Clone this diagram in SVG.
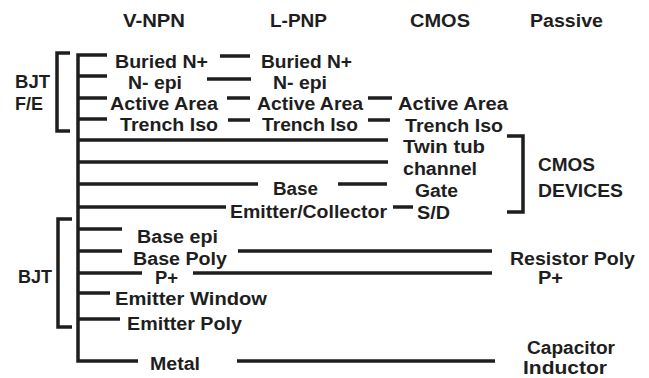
<svg xmlns="http://www.w3.org/2000/svg" width="649" height="378" viewBox="0 0 649 378">
<style>
text{font-family:"Liberation Sans",Arial,sans-serif;font-weight:bold;font-size:17.5px;fill:#1e1e1e}
.big{font-size:18.5px}
.ln{stroke:#1e1e1e;stroke-width:3.5;fill:none;stroke-linecap:butt;stroke-linejoin:miter}
</style>
<rect width="649" height="378" fill="#ffffff"/>
<g id="connectors" class="ln">
<path d="M70,53 H57 V131 H70"/>
<path d="M107,55 H78 V361 H138"/>
<path d="M78,76 H107 M78,98 H107 M78,119 H107"/>
<path d="M78,140 H388 M78,162 H388 M78,184 H258 M78,207 H226"/>
<path d="M78,229 H122 M78,251 H122 M78,273 H142 M78,293 H110 M78,319 H120"/>
<path d="M72,219 H58 V327 H72"/>
<path d="M507,136 H523 V212 H507"/>
<path d="M220,56 H250 M207,79 H251 M227,98 H250 M368,98 H392 M228,120 H250 M368,120 H390"/>
<path d="M338,184 H387 M393,207 H413"/>
<path d="M238,251 H492 M193,273 H492 M237,361 H495"/>
</g>
<g id="headers">
<text x="123" y="27" textLength="62" lengthAdjust="spacingAndGlyphs">V-NPN</text>
<text x="270" y="27" textLength="57" lengthAdjust="spacingAndGlyphs">L-PNP</text>
<text x="410" y="27" textLength="60" lengthAdjust="spacingAndGlyphs">CMOS</text>
<text x="530" y="27" textLength="73" lengthAdjust="spacingAndGlyphs">Passive</text>
</g>
<g id="bjt-fe">
<text x="15" y="88" textLength="35" lengthAdjust="spacingAndGlyphs">BJT</text>
<text x="15" y="110" textLength="28" lengthAdjust="spacingAndGlyphs">F/E</text>
</g>
<g id="vnpn-buried"><text x="115" y="68" textLength="93" lengthAdjust="spacingAndGlyphs">Buried N+</text></g>
<g id="lpnp-buried"><text x="261" y="68" textLength="91" lengthAdjust="spacingAndGlyphs">Buried N+</text></g>
<g id="vnpn-epi"><text x="128" y="89" textLength="54" lengthAdjust="spacingAndGlyphs">N- epi</text></g>
<g id="lpnp-epi"><text x="273" y="89" textLength="54" lengthAdjust="spacingAndGlyphs">N- epi</text></g>
<g id="vnpn-active"><text x="110" y="110" textLength="108" lengthAdjust="spacingAndGlyphs">Active Area</text></g>
<g id="lpnp-active"><text x="257" y="110" textLength="106" lengthAdjust="spacingAndGlyphs">Active Area</text></g>
<g id="cmos-active"><text x="398" y="110" textLength="110" lengthAdjust="spacingAndGlyphs">Active Area</text></g>
<g id="vnpn-trench"><text x="120" y="131" textLength="98" lengthAdjust="spacingAndGlyphs">Trench Iso</text></g>
<g id="lpnp-trench"><text x="262" y="131" textLength="96" lengthAdjust="spacingAndGlyphs">Trench Iso</text></g>
<g id="cmos-trench"><text x="405" y="132" textLength="98" lengthAdjust="spacingAndGlyphs">Trench Iso</text></g>
<g id="cmos-twintub"><text x="403" y="153" textLength="82" lengthAdjust="spacingAndGlyphs">Twin tub</text></g>
<g id="cmos-channel"><text x="403" y="175" textLength="74" lengthAdjust="spacingAndGlyphs">channel</text></g>
<g id="lpnp-base"><text x="273" y="195" textLength="45" lengthAdjust="spacingAndGlyphs">Base</text></g>
<g id="cmos-gate"><text x="415" y="197" textLength="43" lengthAdjust="spacingAndGlyphs">Gate</text></g>
<g id="lpnp-ec"><text x="230" y="218" textLength="157" lengthAdjust="spacingAndGlyphs">Emitter/Collector</text></g>
<g id="cmos-sd"><text x="417" y="219" textLength="33" lengthAdjust="spacingAndGlyphs">S/D</text></g>
<g id="cmos-devices">
<text class="big" x="538" y="171" textLength="57" lengthAdjust="spacingAndGlyphs">CMOS</text>
<text class="big" x="538" y="197" textLength="85" lengthAdjust="spacingAndGlyphs">DEVICES</text>
</g>
<g id="bjt"><text x="18" y="283" textLength="34" lengthAdjust="spacingAndGlyphs">BJT</text></g>
<g id="base-epi"><text x="137" y="243" textLength="81" lengthAdjust="spacingAndGlyphs">Base epi</text></g>
<g id="base-poly"><text x="133" y="265" textLength="94" lengthAdjust="spacingAndGlyphs">Base Poly</text></g>
<g id="resistor-poly"><text x="510" y="265" textLength="125" lengthAdjust="spacingAndGlyphs">Resistor Poly</text></g>
<g id="p-plus"><text x="155" y="284" textLength="23" lengthAdjust="spacingAndGlyphs">P+</text></g>
<g id="passive-p-plus"><text x="538" y="284" textLength="25" lengthAdjust="spacingAndGlyphs">P+</text></g>
<g id="emitter-window"><text x="115" y="305" textLength="152" lengthAdjust="spacingAndGlyphs">Emitter Window</text></g>
<g id="emitter-poly"><text x="127" y="330" textLength="115" lengthAdjust="spacingAndGlyphs">Emitter Poly</text></g>
<g id="metal"><text x="150" y="370" textLength="50" lengthAdjust="spacingAndGlyphs">Metal</text></g>
<g id="capacitor-inductor">
<text x="527" y="354" textLength="88" lengthAdjust="spacingAndGlyphs">Capacitor</text>
<text x="523" y="374" textLength="84" lengthAdjust="spacingAndGlyphs">Inductor</text>
</g>
</svg>
